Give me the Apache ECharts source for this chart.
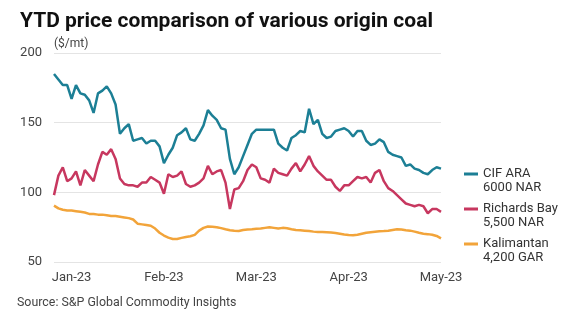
<!DOCTYPE html>
<html>
<head>
<meta charset="utf-8">
<script src="https://cdn.jsdelivr.net/npm/echarts@6/dist/echarts.min.js"></script>
<style>html,body{margin:0;padding:0;background:#fff;}#c{width:570px;height:330px;}</style>
</head>
<body>
<div id="c"></div>
<script>
const tickLabels = ['Jan-23', 'Feb-23', 'Mar-23', 'Apr-23', 'May-23'];
const tickIndex = [4, 25, 46, 67, 88];
const yTicks = [50, 100, 150, 200];

const cifAra = [185,181,177,177,167,177,171,170,166,157,171,173,176,171,163,142,146,149,137,138,
  139,135,137,137,133,121,127,132,141,143,146,138,137,142,148,159,155,152,146,145,
  124,113,118,126,134,142,145,145,145,145,145,135,132,130,139,141,144,143,160,149,
  152,142,139,140,144,145,146,144,140,144,144,137,134,135,138,136,129,127,126,125,
  119,120,117,116,114,113,116,118,117];
const richardsBay = [98,112,118,108,110,115,105,116,112,108,120,129,127,131,124,110,106,105,105,104,
  107,107,111,109,107,99,113,111,112,115,106,104,105,107,110,119,113,115,116,107,
  88,102,103,108,116,120,118,110,109,107,117,114,113,112,117,121,115,120,126,119,
  115,112,109,109,104,101,105,105,108,111,110,111,107,114,116,108,103,101,98,95,
  92,91,90,91,90,85,88,88,86];
const kalimantan = [90.5,88.5,87.5,87,87,86.5,86,85.5,84.5,84.5,84,84,83.5,83,83,82.5,82,81.5,80.5,77.5,
  77,76.5,76,74,71,69,67.5,66.5,66.5,67.3,68,68.5,69.5,72.5,74.5,75.5,75.3,75,74.3,73.5,
  72.8,72.5,72.3,73,73.3,73.5,73.8,74,74.5,75,74.5,74,74.5,74.2,73.5,73,72.8,72.5,72.2,71.8,
  71.6,71.5,71.3,71.1,70.8,70.3,69.8,69.4,69.2,69.6,70.3,71,71.4,71.7,72,72.2,72.5,73,73.5,73.3,
  72.8,72.5,71.8,71,70.3,70,69.6,68.7,67];

const seriesNames = ['CIF ARA\n6000 NAR', 'Richards Bay\n5,500 NAR', 'Kalimantan\n4,200 GAR'];
const seriesColors = ['#1C7F95', '#C7375F', '#F2A43A'];

const categories = cifAra.map((_, i) => {
  const k = tickIndex.indexOf(i);
  return k >= 0 ? tickLabels[k] : 'p' + i;
});

const font = 'Roboto, "Noto Sans", sans-serif';
const chart = echarts.init(document.getElementById('c'), null, {renderer: 'canvas'});
const legendIcon = 'path://M0,6.5h14v3h-14z M0,0h0.01v0.01h-0.01z M13.99,28.99h0.01v0.01h-0.01z';

chart.setOption({
  animation: false,
  backgroundColor: '#ffffff',
  textStyle: {fontFamily: font},
  title: [{
    text: 'YTD price comparison of various origin coal',
    left: 15, top: 6,
    textStyle: {fontFamily: font, fontWeight: 'bold', fontSize: 21, color: '#111'}
  }, {
    text: 'Source: S&P Global Commodity Insights',
    left: 12, top: 292,
    textStyle: {fontFamily: font, fontWeight: 'normal', fontSize: 12.4, color: '#444'}
  }],
  legend: {
    orient: 'vertical',
    left: 459, top: 161,
    itemWidth: 14, itemHeight: 29, itemGap: 6,
    icon: legendIcon,
    textStyle: {fontFamily: font, fontSize: 13, lineHeight: 14.5, color: '#333'},
    data: seriesNames
  },
  grid: {left: 54, right: 129, top: 53, bottom: 68, containLabel: false},
  xAxis: {
    type: 'category',
    data: categories,
    boundaryGap: false,
    axisLine: {show: false},
    axisTick: {show: false},
    splitLine: {show: false},
    axisLabel: {
      interval: (i) => tickIndex.includes(i),
      formatter: (v) => v,
      color: '#444', fontSize: 13, margin: 9, fontFamily: font
    }
  },
  yAxis: {
    type: 'value',
    min: 50, max: 200, interval: 50,
    name: '($/mt)',
    nameLocation: 'end',
    nameGap: 3,
    nameTextStyle: {align: 'left', color: '#444', fontSize: 12, fontFamily: font},
    axisLine: {show: false},
    axisTick: {show: false},
    axisLabel: {color: '#444', fontSize: 13, margin: 12, padding: [6, 0, 0, 0], fontFamily: font,
      formatter: (v) => yTicks.includes(v) ? String(v) : ''},
    splitLine: {lineStyle: {color: '#e4e4e4', width: 1}}
  },
  series: [
    {name: seriesNames[0], type: 'line', data: cifAra, symbol: 'none', color: seriesColors[0], lineStyle: {width: 2.5, color: seriesColors[0]}},
    {name: seriesNames[1], type: 'line', data: richardsBay, symbol: 'none', color: seriesColors[1], lineStyle: {width: 2.5, color: seriesColors[1]}},
    {name: seriesNames[2], type: 'line', data: kalimantan, symbol: 'none', color: seriesColors[2], lineStyle: {width: 2.5, color: seriesColors[2]}}
  ]
});
</script>
</body>
</html>
